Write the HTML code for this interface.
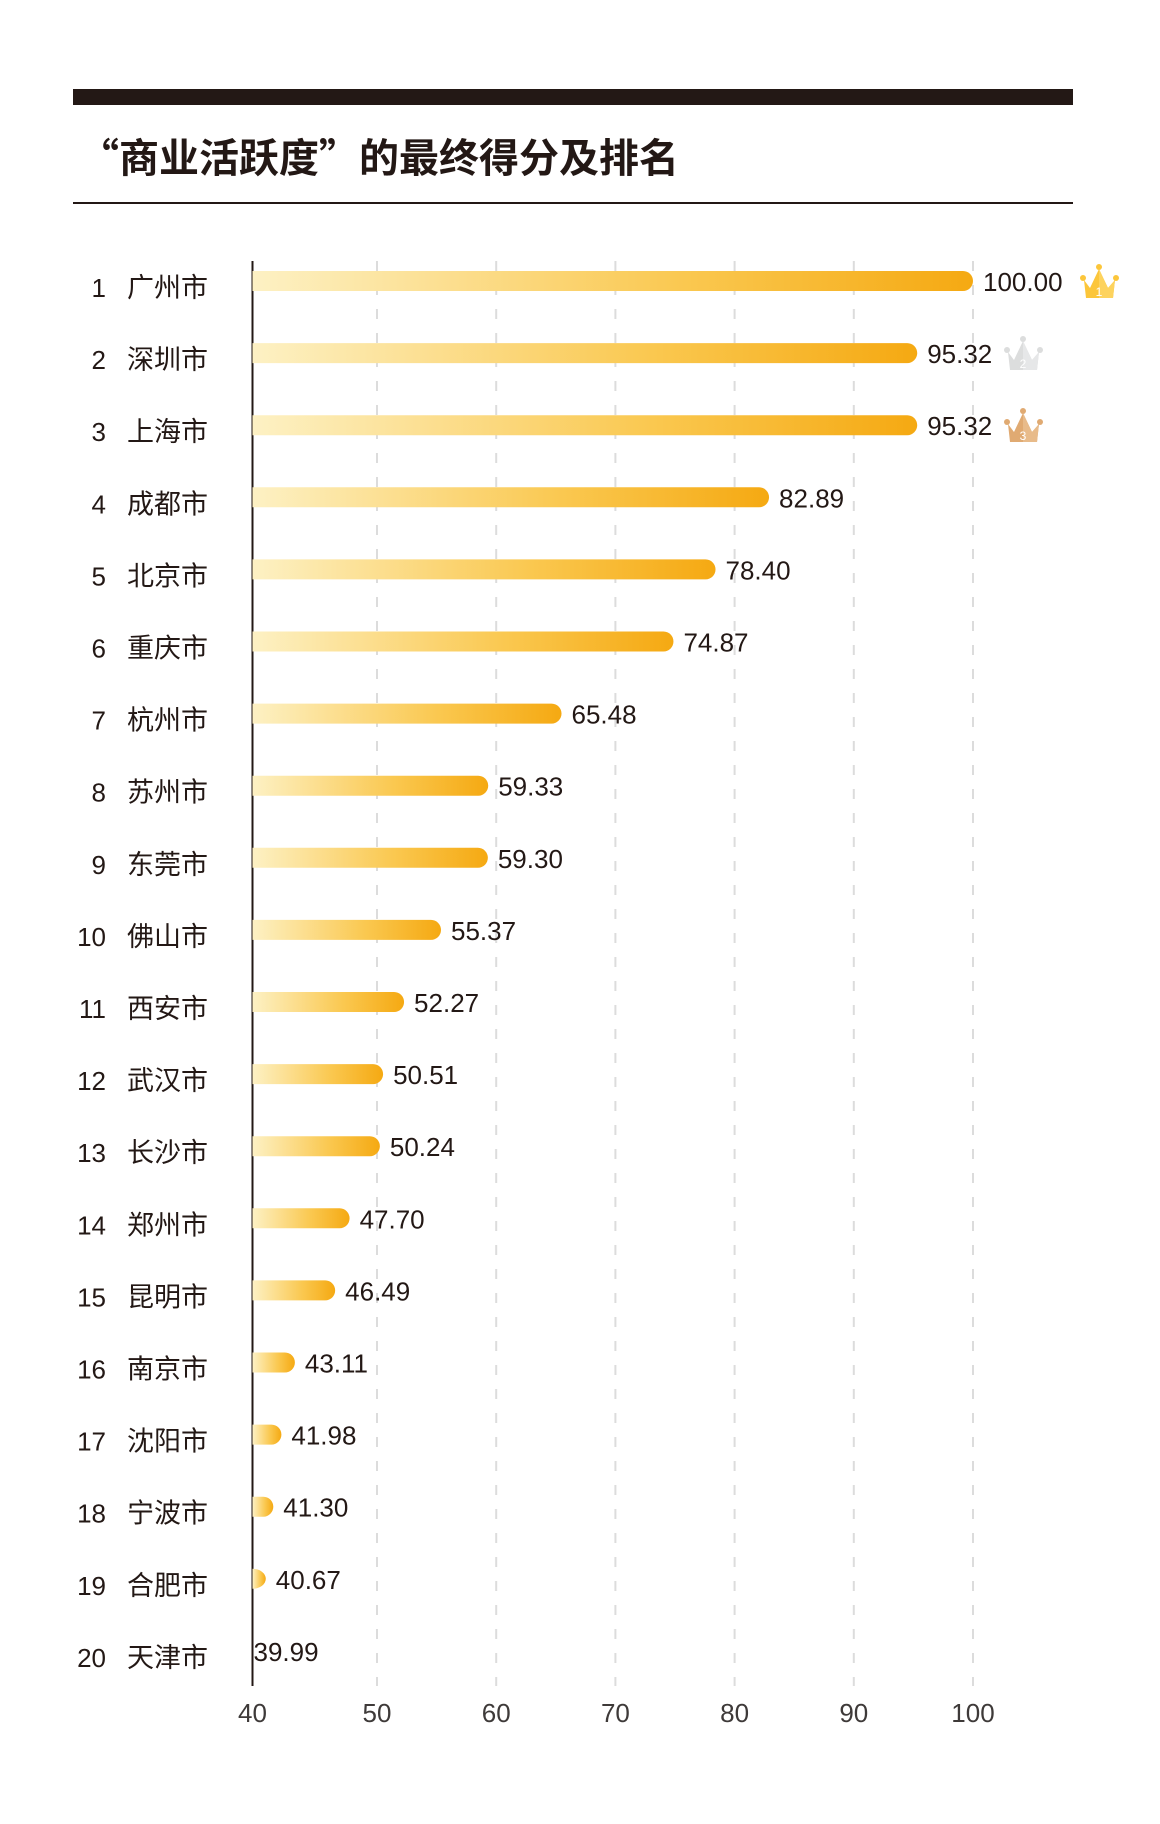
<!DOCTYPE html>
<html><head><meta charset="utf-8">
<style>
html,body{margin:0;padding:0;background:#fff;}
body{width:1160px;height:1824px;position:relative;overflow:hidden;font-family:"Liberation Sans","Noto Sans CJK SC",sans-serif;color:#231815;}
</style></head>
<body>
<div style="position:absolute;left:73px;top:89px;width:1000px;height:16px;background:#231815;"></div>
<div style="position:absolute;left:79px;top:129px;font-family:'Noto Sans CJK SC','Liberation Sans',sans-serif;font-weight:bold;font-size:40px;line-height:52px;color:#231815;">“商业活跃度”的最终得分及排名</div>
<div style="position:absolute;left:73px;top:202px;width:1000px;height:2px;background:#231815;"></div>
<svg id="chart" width="1160" height="1824" style="position:absolute;left:0;top:0;">
<defs>
<linearGradient id="g" x1="0" x2="1" y1="0" y2="0">
<stop offset="0" stop-color="#fdf1c4"/><stop offset="0.6" stop-color="#fac850"/><stop offset="1" stop-color="#f5a912"/>
</linearGradient>
</defs>
</svg>
<script>
const cities=["广州市","深圳市","上海市","成都市","北京市","重庆市","杭州市","苏州市","东莞市","佛山市","西安市","武汉市","长沙市","郑州市","昆明市","南京市","沈阳市","宁波市","合肥市","天津市"];
const values=[100.00,95.32,95.32,82.89,78.40,74.87,65.48,59.33,59.30,55.37,52.27,50.51,50.24,47.70,46.49,43.11,41.98,41.30,40.67,39.99];
const labels=["100.00","95.32","95.32","82.89","78.40","74.87","65.48","59.33","59.30","55.37","52.27","50.51","50.24","47.70","46.49","43.11","41.98","41.30","40.67","39.99"];
const ticks=[40,50,60,70,80,90,100];
const NS="http://www.w3.org/2000/svg";
const svg=document.getElementById('chart');
const axisX=252.5, top0=261, bot=1686;
const x=v=>Math.max(axisX,377+(v-50)*11.92);
const y=i=>281+i*72.1;
function mk(t,a){const e=document.createElementNS(NS,t);for(const k in a)e.setAttribute(k,a[k]);svg.appendChild(e);return e;}
ticks.forEach((t,i)=>{
  if(i>0){
    const l=mk('line',{x1:x(t),x2:x(t),y1:top0,y2:bot,stroke:'#dcdcdc','stroke-width':2,'stroke-dasharray':'10 14'});
    
    
  }
  const tx=mk('text',{x:i==0?axisX:x(t),y:1722,'text-anchor':'middle','font-size':26,fill:'#3e3a39'});
  tx.textContent=t;
  
  
});
const ax=mk('line',{x1:axisX,x2:axisX,y1:top0,y2:bot,stroke:'#231815','stroke-width':2});


values.forEach((v,i)=>{
  const cy=y(i);
  const end=x(v);
  const w=v>40?end-axisX:0;
  if(w>0){
    const b=mk('path',{d:`M${axisX} ${cy-10}H${end-10}A10 10 0 0 1 ${end-10} ${cy+10}H${axisX}Z`,fill:'url(#g)'});
    if(w<14) b.setAttribute('d',`M${axisX} ${cy-10}A${w} 10 0 0 1 ${axisX} ${cy+10}Z`);
    
    
  }
  const vt=mk('text',{x:(w>0?end+10:axisX+1),y:cy+10,'font-size':26,fill:'#231815'});
  vt.textContent=labels[i];
  
  
  const rk=mk('text',{x:106,y:cy+16,'text-anchor':'end','font-size':26,fill:'#231815'});
  rk.textContent=i+1;
  
  
  const ct=mk('text',{x:127,y:cy+16,'font-size':27,fill:'#231815'});
  ct.textContent=cities[i];
  
  
});
const crowns=[[1080,263,'#fcc63a','#fdd35e'],[1004,335,'#dcdddd','#e6e7e8'],[1004,407,'#e0aa72','#e8bb8a']];
crowns.forEach((c,i)=>{
  const [cx,cy,col,col2]=c;
  const g=document.createElementNS(NS,'g');
  g.setAttribute('transform',`translate(${cx},${cy})`);
  
  
  svg.appendChild(g);
  g.innerHTML=`<path d="M4 17 L10 25 L19 6 L28 25 L35 17 L33 35 L6 35 Z" fill="${col}"/>
  <path d="M19 6 L28 25 L35 17 L33 35 L19 35 Z" fill="${col2}"/>
  <circle cx="19" cy="4" r="3" fill="${col}"/><circle cx="3" cy="15" r="3" fill="${col}"/><circle cx="36" cy="15" r="3" fill="${col}"/>
  <text x="19" y="33" text-anchor="middle" font-size="12" fill="#fff">${i+1}</text>`;
});
</script>
</body></html>
